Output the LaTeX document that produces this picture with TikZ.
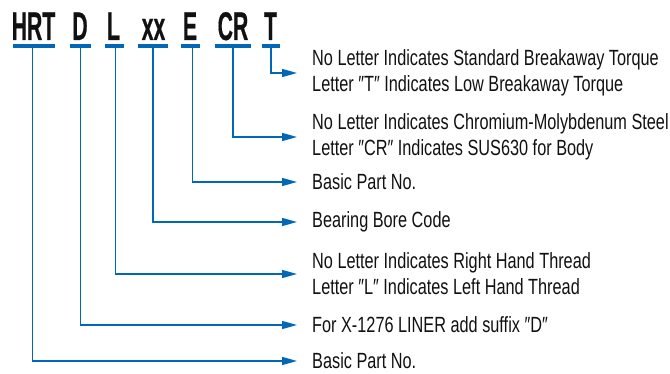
\documentclass[tikz,border=0pt]{standalone}
\usepackage{fontspec}
\setmainfont{Liberation Sans}
\newfontfamily\lblfont[FakeStretch=0.74]{Liberation Sans}
\newfontfamily\codefont[FakeStretch=0.53,FakeBold=0.4]{Liberation Sans Bold}
\usetikzlibrary{arrows.meta}
\definecolor{lineblue}{HTML}{0068B7}
\definecolor{ink}{HTML}{111111}
\begin{document}
\begin{tikzpicture}[x=1pt,y=-1pt,
  code/.style={anchor=base,inner sep=0pt,text=ink,font=\codefont\fontsize{40}{40}\selectfont},
  uline/.style={fill=lineblue,inner sep=0pt,minimum height=4pt},
  lbl/.style={anchor=west,inner sep=0pt,align=left,text=ink,font=\lblfont\fontsize{22}{26}\selectfont},
  conn/.style={draw=lineblue,line width=1.4pt,-{Triangle[length=15pt,width=8pt]}}]
\useasboundingbox (0,0) rectangle (670,374);
% code letters
\node[code] (cHRT) at (33.5,40) {HRT};
\node[code] (cD) at (80,40) {D};
\node[code] (cL) at (113.5,40) {L};
\node[code] (cxx) at (153.5,40) {xx};
\node[code] (cE) at (190,40) {E};
\node[code] (cCR) at (233,40) {CR};
\node[code] (cT) at (270.5,40) {T};
% underlines
\node[uline,minimum width=42pt] (uHRT) at (34,46) {};
\node[uline,minimum width=21pt] (uD) at (80.5,46) {};
\node[uline,minimum width=19pt] (uL) at (114.5,46) {};
\node[uline,minimum width=30pt] (uxx) at (153,46) {};
\node[uline,minimum width=19pt] (uE) at (190.5,46) {};
\node[uline,minimum width=36pt] (uCR) at (233,46) {};
\node[uline,minimum width=18pt] (uT) at (271,46) {};
% labels
\node[lbl] (lT) at (312,73) {No Letter Indicates Standard Breakaway Torque\\Letter ″T″ Indicates Low Breakaway Torque};
\node[lbl] (lCR) at (312,137) {No Letter Indicates Chromium-Molybdenum Steel\\Letter ″CR″ Indicates SUS630 for Body};
\node[lbl] (lE) at (312,182) {Basic Part No.};
\node[lbl] (lxx) at (312,222) {Bearing Bore Code};
\node[lbl] (lL) at (312,274) {No Letter Indicates Right Hand Thread\\Letter ″L″ Indicates Left Hand Thread};
\node[lbl] (lD) at (312,325) {For X-1276 LINER add suffix ″D″};
\node[lbl] (lHRT) at (312,361) {Basic Part No.};
% connectors
\draw[conn] (uT.south) |- ([xshift=-15pt]lT.west);
\draw[conn] (uCR.south) |- ([xshift=-15pt]lCR.west);
\draw[conn] ([xshift=2pt]uE.south) |- ([xshift=-15pt]lE.west);
\draw[conn] (uxx.south) |- ([xshift=-15pt]lxx.west);
\draw[conn] ([xshift=1pt]uL.south) |- ([xshift=-15pt]lL.west);
\draw[conn] (uD.south) |- ([xshift=-15pt]lD.west);
\draw[conn] ([xshift=-1.5pt]uHRT.south) |- ([xshift=-15pt]lHRT.west);
\end{tikzpicture}
\end{document}
